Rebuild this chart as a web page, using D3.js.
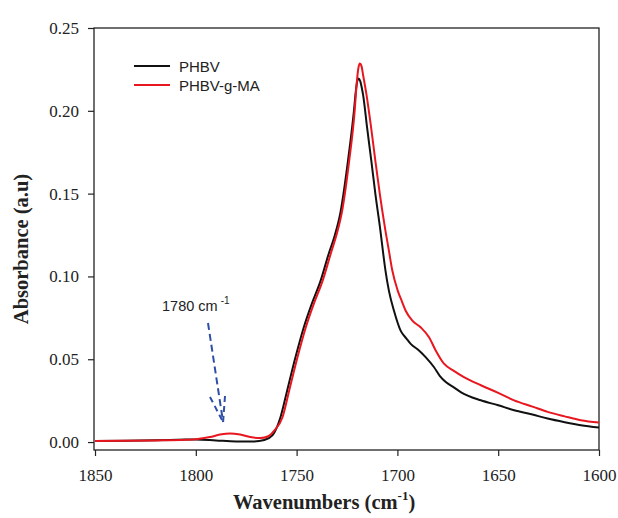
<!DOCTYPE html>
<html>
<head>
<meta charset="utf-8">
<script src="https://cdn.jsdelivr.net/npm/d3@7"></script>
<style>
  html, body { margin: 0; padding: 0; background: #fff; }
  svg { display: block; }
</style>
</head>
<body>
<svg id="chart" width="618" height="518"></svg>
<script>
// ---- data ----
const xTicks = [1850, 1800, 1750, 1700, 1650, 1600];
const yTicks = [0.00, 0.05, 0.10, 0.15, 0.20, 0.25];
const seriesNames = ["PHBV", "PHBV-g-MA"];

const phbvWavenumber = [1850, 1835, 1820, 1805, 1800, 1790, 1780, 1772, 1766, 1762, 1758, 1754.7, 1750.6, 1746.5, 1742.3, 1738.2, 1734, 1731, 1728.2, 1724.6, 1721.6, 1720.6, 1719.9, 1719.2, 1718.4, 1717.6, 1717.0, 1715.0, 1712.9, 1710.9, 1708.4, 1707.2, 1705.9, 1704.2, 1701.7, 1698.4, 1695.5, 1693.4, 1689.3, 1686.0, 1681.9, 1679, 1676, 1672, 1668.6, 1658.6, 1650, 1642.1, 1633, 1625.5, 1617, 1609, 1600];
const phbvAbsorbance = [0.0006, 0.0008, 0.0011, 0.0015, 0.0016, 0.0010, 0.0004, 0.0003, 0.0012, 0.0040, 0.0150, 0.031, 0.051, 0.069, 0.084, 0.097, 0.114, 0.125, 0.139, 0.169, 0.1995, 0.2120, 0.2180, 0.2195, 0.2178, 0.2135, 0.2095, 0.1895, 0.1695, 0.1495, 0.1274, 0.1154, 0.1034, 0.0913, 0.0793, 0.0673, 0.0625, 0.0593, 0.0553, 0.0513, 0.0453, 0.0400, 0.0362, 0.0330, 0.0302, 0.0252, 0.0222, 0.0192, 0.0166, 0.0142, 0.0120, 0.0102, 0.0088];

const maWavenumber = [1850, 1835, 1820, 1805, 1800, 1793, 1788, 1783, 1778, 1773, 1768, 1764, 1761, 1757, 1753.7, 1749.6, 1745.5, 1741.3, 1737.2, 1733, 1730, 1727.5, 1724, 1721.2, 1720.2, 1719.4, 1718.6, 1717.8, 1717.0, 1715.3, 1713.0, 1710.9, 1708.7, 1705.9, 1704.2, 1702.5, 1699.8, 1697.8, 1695.9, 1692.6, 1688.5, 1684.3, 1681.0, 1676.9, 1672, 1667, 1658.6, 1650, 1642.1, 1633, 1625.5, 1617, 1609, 1600];
const maAbsorbance = [0.0007, 0.0008, 0.0010, 0.0014, 0.0017, 0.0030, 0.0045, 0.0052, 0.0045, 0.0030, 0.0024, 0.0035, 0.0070, 0.0150, 0.031, 0.051, 0.069, 0.084, 0.097, 0.114, 0.126, 0.139, 0.169, 0.200, 0.2165, 0.2255, 0.2286, 0.2270, 0.2215, 0.2095, 0.1895, 0.1695, 0.1495, 0.1274, 0.1154, 0.1034, 0.0913, 0.0850, 0.0793, 0.0733, 0.0693, 0.0633, 0.0553, 0.0473, 0.0430, 0.0392, 0.0343, 0.0297, 0.0252, 0.0214, 0.0182, 0.0155, 0.0132, 0.0118];

const annotationLabel = "1780 cm";
const annotationSup = "-1";
const annotationWavenumber = 1782.5;

// ---- layout ----
const svg = d3.select("#chart");
const mLeft = 94, mRight = 599, mTop = 28, mBottom = 450;

const x = d3.scaleLinear().domain([1850.5, 1600]).range([mLeft, mRight]);
const y = d3.scaleLinear().domain([-0.0048, 0.25]).range([mBottom, mTop]);

const serif = "'Liberation Serif', 'Times New Roman', Times, serif";
const sans = "'Liberation Sans', Arial, Helvetica, sans-serif";
const axisColor = "#222";

// axes
const gy = svg.append("g").attr("transform", `translate(${mLeft},0)`)
  .call(d3.axisLeft(y).tickValues(yTicks).tickFormat(d3.format(".2f")).tickSize(6).tickSizeOuter(0).tickPadding(9));
gy.attr("font-family", null).attr("font-size", null);
gy.select(".domain").remove();
gy.selectAll("line").attr("stroke", axisColor).attr("stroke-width", 1.2);
gy.selectAll("text").style("font-family", serif).style("font-size", "17px").attr("fill", "#222");

const gx = svg.append("g").attr("transform", `translate(0,${mBottom})`)
  .call(d3.axisBottom(x).tickValues(xTicks).tickFormat(d3.format("d")).tickSize(6).tickSizeOuter(0));
gx.attr("font-family", null).attr("font-size", null);
gx.select(".domain").remove();
gx.selectAll("line").attr("stroke", axisColor).attr("stroke-width", 1.2);
gx.selectAll("text").style("font-family", serif).style("font-size", "17px").attr("fill", "#222")
  .attr("y", 31).attr("dy", 0);

// frame
svg.append("rect").attr("x", mLeft).attr("y", mTop)
  .attr("width", mRight - mLeft).attr("height", mBottom - mTop)
  .attr("fill", "none").attr("stroke", axisColor).attr("stroke-width", 1.3);

// lines
const line = d3.line().x(d => x(d[0])).y(d => y(d[1])).curve(d3.curveMonotoneX);
const phbv = phbvWavenumber.map((w, i) => [w, phbvAbsorbance[i]]);
const ma = maWavenumber.map((w, i) => [w, maAbsorbance[i]]);
const colors = ["#111111", "#e8171f"];

svg.append("path").datum(phbv).attr("d", line).attr("fill", "none")
  .attr("stroke", colors[0]).attr("stroke-width", 2);
svg.append("path").datum(ma).attr("d", line).attr("fill", "none")
  .attr("stroke", colors[1]).attr("stroke-width", 2);

// legend
const legendY = [66, 85];
seriesNames.forEach((name, i) => {
  svg.append("line").attr("x1", 134).attr("x2", 170).attr("y1", legendY[i]).attr("y2", legendY[i])
    .attr("stroke", colors[i]).attr("stroke-width", 2);
  svg.append("text").attr("x", 179).attr("y", legendY[i] + 6)
    .style("font-family", sans).style("font-size", "15px").attr("fill", "#222").text(name);
});

// annotation
const ann = svg.append("text").attr("x", 162).attr("y", 311)
  .style("font-family", sans).style("font-size", "14.5px").attr("fill", "#222");
ann.append("tspan").text(annotationLabel);
ann.append("tspan").attr("dx", 3).attr("dy", -7).style("font-size", "10px").text(annotationSup);

const tipX = x(annotationWavenumber) - 8, tipY = 422;
const blue = "#2f4fa6";
svg.append("line").attr("x1", 208).attr("y1", 323).attr("x2", tipX).attr("y2", tipY)
  .attr("stroke", blue).attr("stroke-width", 2).attr("stroke-dasharray", "7,4");
svg.append("line").attr("x1", 210).attr("y1", 397).attr("x2", tipX).attr("y2", tipY)
  .attr("stroke", blue).attr("stroke-width", 2).attr("stroke-dasharray", "6,4");
svg.append("line").attr("x1", 225).attr("y1", 396).attr("x2", tipX).attr("y2", tipY)
  .attr("stroke", blue).attr("stroke-width", 2).attr("stroke-dasharray", "6,4");

// axis titles
svg.append("text")
  .attr("transform", `translate(27.5,${(mTop + mBottom) / 2 + 10}) rotate(-90)`)
  .attr("text-anchor", "middle")
  .style("font-family", serif).style("font-weight", "bold").style("font-size", "20.5px").attr("fill", "#222")
  .text("Absorbance (a.u)");

const xt = svg.append("text").attr("x", 233).attr("y", 509)
  .style("font-family", serif).style("font-weight", "bold").style("font-size", "20.5px").attr("fill", "#222");
xt.append("tspan").text("Wavenumbers (cm");
xt.append("tspan").attr("dy", -9).style("font-size", "13px").text("-1");
xt.append("tspan").attr("dy", 9).text(")");
</script>
</body>
</html>
